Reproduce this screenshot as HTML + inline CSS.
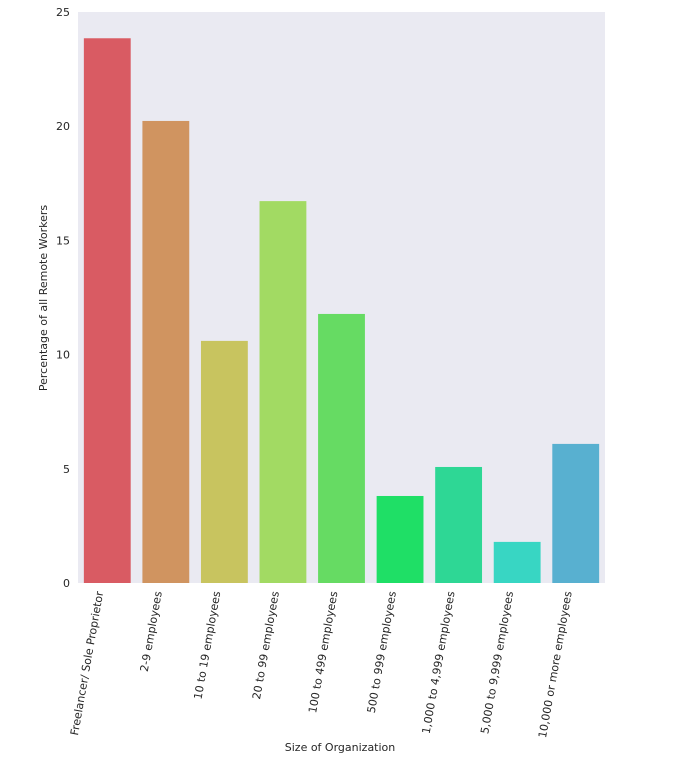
<!DOCTYPE html>
<html><head><meta charset="utf-8"><style>body{margin:0;background:#fff}svg{display:block;font-family:"DejaVu Sans","Liberation Sans",sans-serif}</style></head>
<body>
<svg id="chart" width="679" height="765">
<rect x="78" y="12" width="527" height="571" fill="#eaeaf2"/>
<g id="bars"></g><g id="yticks"></g><g id="xticks"></g>
<text x="0" y="0" transform="translate(47,298) rotate(-90)" text-anchor="middle" font-size="11" fill="#262626">Percentage of all Remote Workers</text>
<text x="340" y="751" text-anchor="middle" font-size="11" fill="#262626">Size of Organization</text>
</svg>
<script>
const categories = ["Freelancer/ Sole Proprietor","2-9 employees","10 to 19 employees","20 to 99 employees","100 to 499 employees","500 to 999 employees","1,000 to 4,999 employees","5,000 to 9,999 employees","10,000 or more employees"];
const values = [23.85, 20.23, 10.6, 16.72, 11.78, 3.81, 5.08, 1.8, 6.09];
const colors = ["#d95b63","#d09460","#c8c45f","#a2da63","#66db63","#1fdf66","#2ed795","#38d6c3","#58b0d0"];
const yTicks = [0,5,10,15,20,25];
const X0=78,X1=605,Y0=583,Y1=12,YMAX=25;
const ns="http://www.w3.org/2000/svg";
const y=v=>Y0-(v/YMAX)*(Y0-Y1);
const band=(X1-X0)/categories.length;
const x=i=>X0+band*i;
const gb=document.getElementById('bars'),gy=document.getElementById('yticks'),gx=document.getElementById('xticks');
values.forEach((v,i)=>{
  const r=document.createElementNS(ns,'rect');
  r.setAttribute('x',x(i)+band*0.1);r.setAttribute('width',band*0.8);
  r.setAttribute('y',y(v));r.setAttribute('height',Y0-y(v));
  r.setAttribute('fill',colors[i]);
  
  
  gb.appendChild(r);
  const t=document.createElementNS(ns,'text');
  const cx=x(i)+band/2;
  t.setAttribute('transform','translate('+(cx-4)+',592) rotate(-80)');
  t.setAttribute('text-anchor','end');t.setAttribute('font-size','11');t.setAttribute('fill','#262626');
  t.textContent=categories[i];
  
  
  gx.appendChild(t);
});
yTicks.forEach(v=>{
  const t=document.createElementNS(ns,'text');
  t.setAttribute('x',70);t.setAttribute('y',y(v)+4);t.setAttribute('text-anchor','end');
  t.setAttribute('font-size','11');t.setAttribute('fill','#262626');
  t.textContent=v;
  
  
  gy.appendChild(t);
});
</script>
</body></html>
